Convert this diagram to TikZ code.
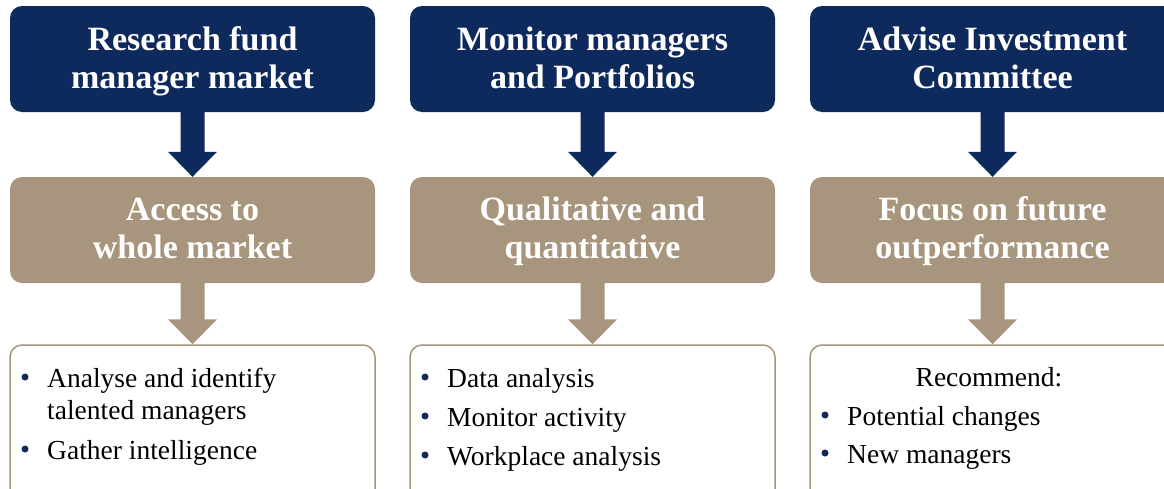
\documentclass[tikz,border=0pt]{standalone}
\usepackage{fontspec}
\setmainfont{Liberation Serif}
\usetikzlibrary{calc}
\definecolor{navy}{HTML}{0E2A5C}
\definecolor{tanc}{HTML}{A8957D}
\newcommand\blockarrow[3]{%
  \fill[#3] ($(#1.south)+(-12,0)$) -- ($(#2.north)+(-12,-25)$) -- ($(#2.north)+(-24.5,-25)$)
    -- (#2.north) -- ($(#2.north)+(24.5,-25)$) -- ($(#2.north)+(12,-25)$)
    -- ($(#1.south)+(12,0)$) -- cycle;}
\begin{document}
\begin{tikzpicture}[x=1pt,y=-1pt,
  box/.style={rectangle, rounded corners=12pt, minimum width=365pt, inner sep=0pt},
  topbox/.style={box, fill=navy, minimum height=106pt},
  midbox/.style={box, fill=tanc, minimum height=106pt},
  botbox/.style={box, draw=tanc, line width=1.5pt, fill=white, minimum height=160pt},
  head/.style={font=\fontsize{34}{38}\selectfont\bfseries, text=white, anchor=base, inner sep=0pt},
  body/.style={font=\fontsize{27.5}{32}\selectfont, text=black, anchor=base west, inner sep=0pt},
  bodyc/.style={body, anchor=base},
  dot/.style={circle, fill=navy, minimum size=7pt, inner sep=0pt}]
\useasboundingbox (0,0) rectangle (1164,488);
\clip (0,0) rectangle (1164,488);
\fill[white] (0,0) rectangle (1164,488);
% boxes
\node[topbox] (t1) at (192.5,59) {};
\node[topbox] (t2) at (592.5,59) {};
\node[topbox] (t3) at (992.5,59) {};
\node[midbox] (m1) at (192.5,230) {};
\node[midbox] (m2) at (592.5,230) {};
\node[midbox] (m3) at (992.5,230) {};
\node[botbox] (b1) at (192.5,425) {};
\node[botbox] (b2) at (592.5,425) {};
\node[botbox] (b3) at (992.5,425) {};
% arrows
\blockarrow{t1}{m1}{navy}
\blockarrow{t2}{m2}{navy}
\blockarrow{t3}{m3}{navy}
\blockarrow{m1}{b1}{tanc}
\blockarrow{m2}{b2}{tanc}
\blockarrow{m3}{b3}{tanc}
% header texts
\node[head] (t1a) at (192.5,50) {Research fund};
\node[head] (t1b) at (192.5,88) {manager market};
\node[head] (t2a) at (592.5,50) {Monitor managers};
\node[head] (t2b) at (592.5,88) {and Portfolios};
\node[head] (t3a) at (992.5,50) {Advise Investment};
\node[head] (t3b) at (992.5,88) {Committee};
\node[head] (m1a) at (192.5,220) {Access to};
\node[head] (m1b) at (192.5,258) {whole market};
\node[head] (m2a) at (592.5,220) {Qualitative and};
\node[head] (m2b) at (592.5,258) {quantitative};
\node[head] (m3a) at (992.5,220) {Focus on future};
\node[head] (m3b) at (992.5,258) {outperformance};
% column 1 body
\node[dot] (d11) at (25,377) {};
\node[body] (x11) at (47,387) {Analyse and identify};
\node[body] (x12) at (47,419) {talented managers};
\node[dot] (d12) at (25,449) {};
\node[body] (x13) at (47,459) {Gather intelligence};
% column 2 body
\node[dot] (d21) at (425,377) {};
\node[body] (x21) at (447,387) {Data analysis};
\node[dot] (d22) at (425,416) {};
\node[body] (x22) at (447,426) {Monitor activity};
\node[dot] (d23) at (425,455) {};
\node[body] (x23) at (447,465) {Workplace analysis};
% column 3 body
\node[bodyc] (x31) at (989,386) {Recommend:};
\node[dot] (d31) at (825,415) {};
\node[body] (x32) at (847,425) {Potential changes};
\node[dot] (d32) at (825,453) {};
\node[body] (x33) at (847,463) {New managers};
\end{tikzpicture}
\end{document}
